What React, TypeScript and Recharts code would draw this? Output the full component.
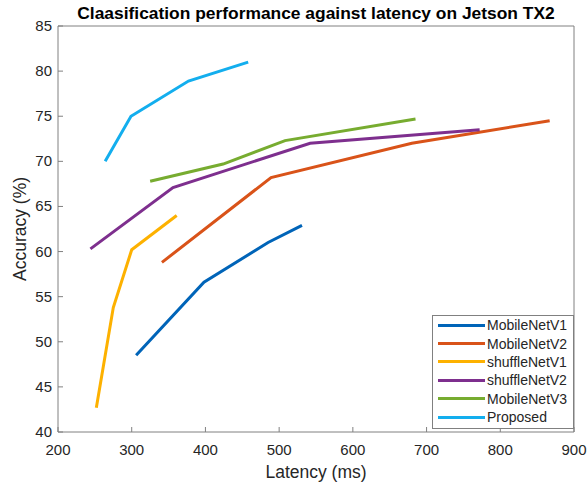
import React from 'react';
import { LineChart, Line, XAxis, YAxis } from 'recharts';

const xTicks = [200, 300, 400, 500, 600, 700, 800, 900];
const yTicks = [40, 45, 50, 55, 60, 65, 70, 75, 80, 85];

const mobileNetV1 = [
  { x: 306, y: 48.5 },
  { x: 398, y: 56.6 },
  { x: 485, y: 61.0 },
  { x: 531, y: 62.9 },
];
const mobileNetV2 = [
  { x: 341, y: 58.8 },
  { x: 489, y: 68.2 },
  { x: 680, y: 72.0 },
  { x: 867, y: 74.5 },
];
const shuffleNetV1 = [
  { x: 252, y: 42.7 },
  { x: 275, y: 53.8 },
  { x: 300, y: 60.2 },
  { x: 361, y: 64.0 },
];
const shuffleNetV2 = [
  { x: 244, y: 60.3 },
  { x: 356, y: 67.1 },
  { x: 542, y: 72.0 },
  { x: 772, y: 73.5 },
];
const mobileNetV3 = [
  { x: 325, y: 67.8 },
  { x: 424, y: 69.7 },
  { x: 508, y: 72.3 },
  { x: 685, y: 74.7 },
];
const proposed = [
  { x: 264, y: 70.0 },
  { x: 299, y: 75.0 },
  { x: 377, y: 78.9 },
  { x: 458, y: 81.0 },
];

const series = [
  { name: 'MobileNetV1', data: mobileNetV1, color: '#0064B8' },
  { name: 'MobileNetV2', data: mobileNetV2, color: '#D95319' },
  { name: 'shuffleNetV1', data: shuffleNetV1, color: '#FDB100' },
  { name: 'shuffleNetV2', data: shuffleNetV2, color: '#7E2F8E' },
  { name: 'MobileNetV3', data: mobileNetV3, color: '#77AC30' },
  { name: 'Proposed', data: proposed, color: '#13AEEE' },
];

const axisGray = '#808080';
const textColor = '#262626';
const font = 'Arial, "Liberation Sans", sans-serif';

const BottomTick = ({ x, y, payload }: any) => (
  <g>
    <line x1={x} y1={y} x2={x} y2={y - 5} stroke={axisGray} />
    <text x={x} y={y + 23} textAnchor="middle" fill={textColor} fontSize={15} fontFamily={font}>
      {payload.value}
    </text>
  </g>
);

const TopTick = ({ x, y }: any) => (
  <line x1={x} y1={y} x2={x} y2={y + 5} stroke={axisGray} />
);

const LeftTick = ({ x, y, payload }: any) => (
  <g>
    <line x1={x} y1={y} x2={x + 5} y2={y} stroke={axisGray} />
    <text x={x - 6} y={y + 5} textAnchor="end" fill={textColor} fontSize={15} fontFamily={font}>
      {payload.value}
    </text>
  </g>
);

const RightTick = ({ x, y }: any) => (
  <line x1={x} y1={y} x2={x - 5} y2={y} stroke={axisGray} />
);

export default function App() {
  return (
    <div style={{ position: 'absolute', left: 0, top: 0, width: 588, height: 488, background: '#fff' }}>
      <LineChart width={588} height={488} margin={{ top: 25, right: 13, bottom: 55, left: 57 }}>
        <XAxis
          xAxisId="bottom"
          type="number"
          dataKey="x"
          domain={[200, 900]}
          ticks={xTicks}
          allowDataOverflow
          height={1}
          tickSize={0}
          tickMargin={0}
          tickLine={false}
          stroke={axisGray}
          tick={<BottomTick />}
          interval={0}
        />
        <XAxis
          xAxisId="top"
          orientation="top"
          type="number"
          dataKey="x"
          domain={[200, 900]}
          ticks={xTicks}
          height={1}
          tickSize={0}
          tickMargin={0}
          tickLine={false}
          stroke={axisGray}
          tick={<TopTick />}
          interval={0}
        />
        <YAxis
          yAxisId="left"
          type="number"
          domain={[40, 85]}
          ticks={yTicks}
          allowDataOverflow
          width={1}
          tickSize={0}
          tickMargin={0}
          tickLine={false}
          stroke={axisGray}
          tick={<LeftTick />}
          interval={0}
        />
        <YAxis
          yAxisId="right"
          orientation="right"
          type="number"
          domain={[40, 85]}
          ticks={yTicks}
          width={1}
          tickSize={0}
          tickMargin={0}
          tickLine={false}
          stroke={axisGray}
          tick={<RightTick />}
          interval={0}
        />
        {series.map((s) => (
          <Line
            key={s.name}
            xAxisId="bottom"
            yAxisId="left"
            data={s.data}
            dataKey="y"
            name={s.name}
            type="linear"
            stroke={s.color}
            strokeWidth={3}
            dot={false}
            activeDot={false}
            isAnimationActive={false}
          />
        ))}
        <text x={316} y={19} textAnchor="middle" fontSize={17.4} fontWeight="bold" fill="#000" fontFamily={font}>
          Claasification performance against latency on Jetson TX2
        </text>
        <text x={316} y={478} textAnchor="middle" fontSize={17.5} fill={textColor} fontFamily={font}>
          Latency (ms)
        </text>
        <text
          x={26}
          y={229}
          textAnchor="middle"
          fontSize={17.5}
          fill={textColor}
          fontFamily={font}
          transform="rotate(-90 26 229)"
        >
          Accuracy (%)
        </text>
      </LineChart>
      <div
        style={{
          position: 'absolute',
          left: 432,
          top: 315,
          width: 140,
          height: 112,
          border: `1px solid ${axisGray}`,
          background: '#fff',
          fontFamily: font,
          fontSize: 14,
          color: textColor,
          paddingTop: 0,
        }}
      >
        {series.map((s) => (
          <div key={s.name} style={{ display: 'flex', alignItems: 'center', height: 18.4 }}>
            <div style={{ width: 47, height: 3, background: s.color, marginLeft: 5, marginRight: 2 }} />
            <span>{s.name}</span>
          </div>
        ))}
      </div>
    </div>
  );
}
